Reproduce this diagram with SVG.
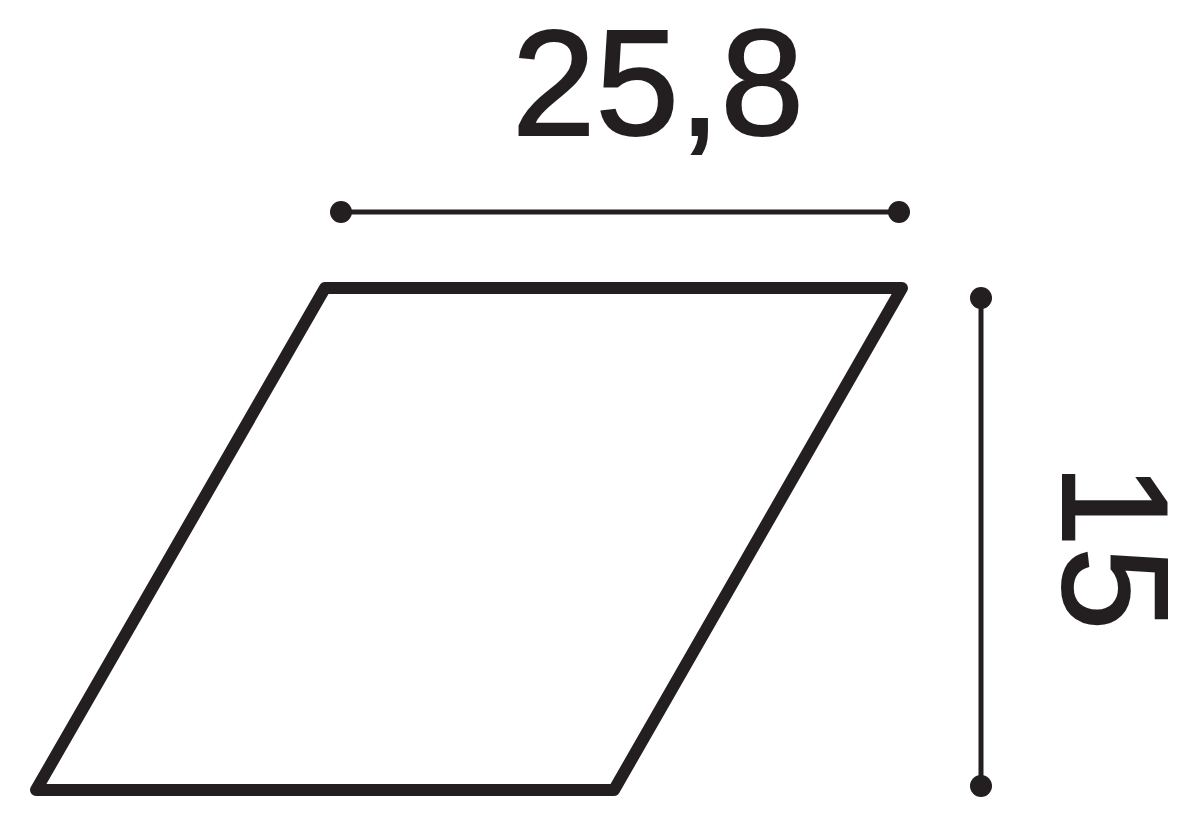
<svg xmlns="http://www.w3.org/2000/svg" width="1200" height="821" viewBox="0 0 1200 821">
<style>
.shape{fill:none;stroke:#231f20;stroke-width:12;stroke-linejoin:round;stroke-linecap:round}
.dim{stroke:#231f20;stroke-width:5}
.dot{fill:#231f20}
.lbl{font-family:"Liberation Sans",Arial,sans-serif;font-size:150px;fill:#231f20;stroke:#231f20;stroke-width:2;text-anchor:middle}
</style>
<rect width="1200" height="821" fill="#ffffff"/>
<g id="panel">
<polygon class="shape" points="325,288 902,288 614,790 36,790"/>
</g>
<g id="connectors">
<line class="dim" x1="341" y1="212" x2="899" y2="212"/>
<circle class="dot" cx="341" cy="212" r="11"/>
<circle class="dot" cx="899" cy="212" r="11"/>
<line class="dim" x1="981" y1="298" x2="981" y2="786"/>
<circle class="dot" cx="981" cy="298" r="11"/>
<circle class="dot" cx="981" cy="786" r="11"/>
</g>
<g id="width-label">
<text class="lbl" x="658" y="135">25,8</text>
</g>
<g id="height-label">
<text class="lbl" transform="translate(1063,547) rotate(90)" x="0" y="0">15</text>
</g>
</svg>
